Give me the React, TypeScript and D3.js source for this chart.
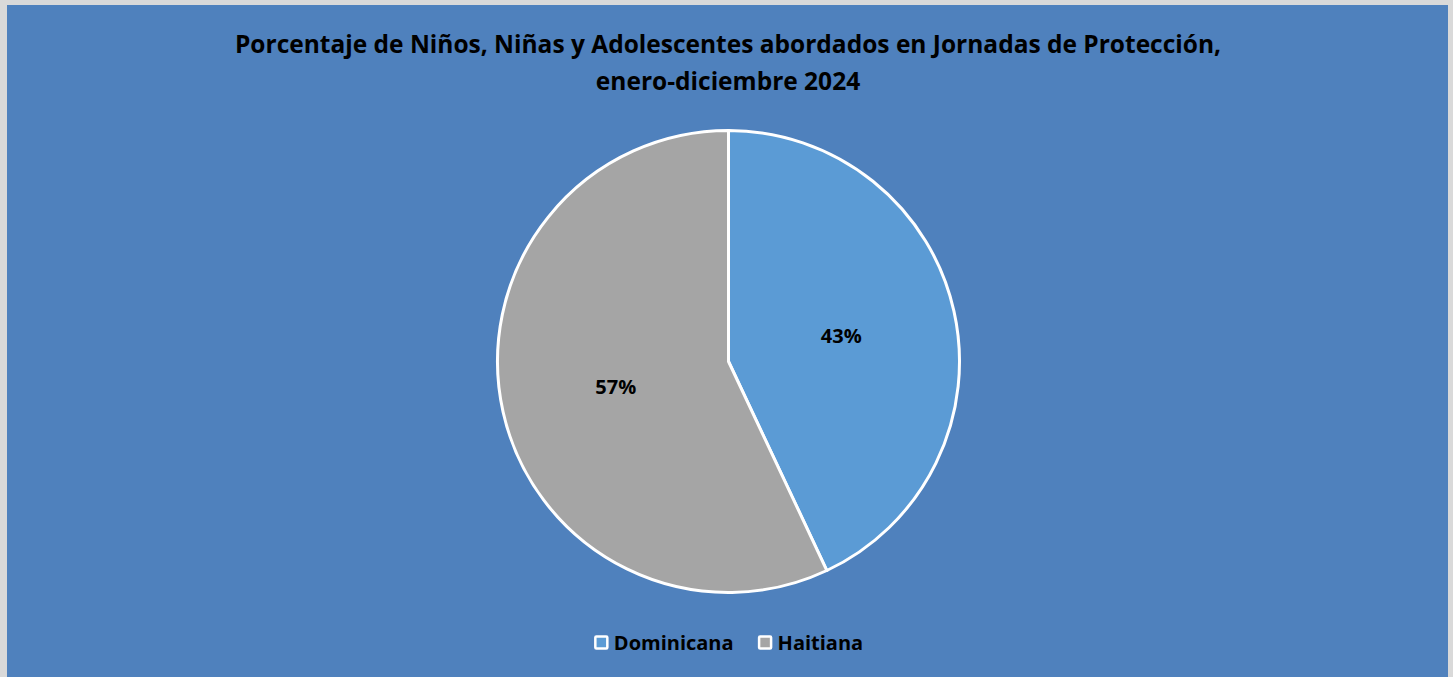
import React, { useEffect, useRef } from 'react';
import * as d3 from 'd3';

const categories = ['Dominicana', 'Haitiana'];
const values = [43, 57];
const colors = ['#5B9BD5', '#A5A5A5'];
const titleLines = [
  'Porcentaje de Niños, Niñas y Adolescentes abordados en Jornadas de Protección,',
  'enero-diciembre 2024',
];

const App: React.FC = () => {
  const ref = useRef<SVGSVGElement>(null);

  useEffect(() => {
    if (!ref.current) return;
    const svg = d3.select(ref.current);
    svg.selectAll('*').remove();
    const width = 1453;
    const height = 677;
    const font = '"Open Sans", Lato, sans-serif';

    // outer frame and plot background
    svg.append('rect').attr('width', width).attr('height', height).attr('fill', '#d9d9d9');
    svg.append('rect').attr('x', 7).attr('y', 5).attr('width', 1441).attr('height', height).attr('fill', '#4F81BD');

    // title
    const title = svg.append('text').attr('text-anchor', 'middle').style('font-family', font)
      .style('font-weight', 700).style('font-size', '24.5px').attr('fill', '#000');
    titleLines.forEach((t, i) => {
      title.append('tspan').attr('x', 728).attr('y', 53 + i * 37).text(t);
    });

    // pie
    const cx = 728.5;
    const cy = 361.5;
    const r = 231;
    const pie = d3.pie<number>().sort(null).value(d => d);
    const arcs = pie(values);
    const arc = d3.arc<d3.PieArcDatum<number>>().innerRadius(0).outerRadius(r);
    const labelArc = d3.arc<d3.PieArcDatum<number>>().innerRadius(r / 2).outerRadius(r / 2);
    const g = svg.append('g').attr('transform', `translate(${cx},${cy})`);
    g.selectAll('path').data(arcs).enter().append('path')
      .attr('d', arc)
      .attr('fill', (d, i) => colors[i])
      .attr('stroke', '#fff')
      .attr('stroke-width', 3)
      .attr('stroke-linejoin', 'round');
    const total = d3.sum(values);
    g.selectAll('text.lbl').data(arcs).enter().append('text')
      .attr('class', 'lbl')
      .attr('transform', d => `translate(${labelArc.centroid(d)})`)
      .attr('text-anchor', 'middle')
      .attr('dy', '0.35em')
      .style('font-family', font).style('font-weight', 700).style('font-size', '20px')
      .text(d => `${Math.round((d.data / total) * 100)}%`);

    // legend
    const legend = svg.append('g');
    let x = 0;
    categories.forEach((c, i) => {
      const item = legend.append('g').attr('transform', `translate(${x},0)`);
      item.append('rect').attr('x', 1.5).attr('y', -13.5).attr('width', 12).attr('height', 12)
        .attr('fill', colors[i]).attr('stroke', '#fff').attr('stroke-width', 2.5).attr('rx', 1);
      const t = item.append('text').attr('x', 20).attr('y', 0)
        .style('font-family', font).style('font-weight', 700).style('font-size', '20px').text(c);
      const w = (t.node() as SVGTextElement).getComputedTextLength();
      x += 20 + w + 24;
    });
    const lw = x - 24;
    legend.attr('transform', `translate(${cx - lw / 2},650)`);
  }, []);

  return (
    <svg ref={ref} width={1453} height={677}
      style={{ position: 'absolute', left: 0, top: 0, display: 'block' }} />
  );
};

export default App;
